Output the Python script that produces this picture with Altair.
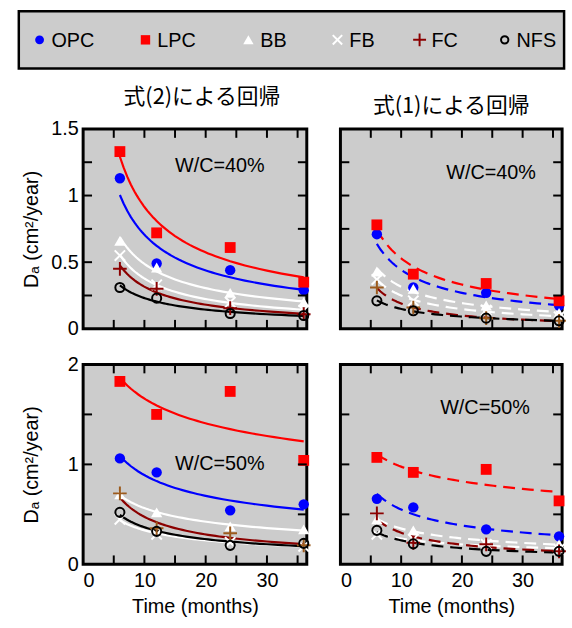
import altair as alt
import pandas as pd

TIME = [6, 12, 24, 36]
SERIES = ["OPC", "LPC", "BB", "FB", "FC", "NFS"]

# 式(2)による回帰, W/C=40%
EQ2_WC40 = {
    "OPC": [1.13, 0.49, 0.44, 0.29],
    "LPC": [1.33, 0.72, 0.61, 0.35],
    "BB": [0.66, 0.46, 0.27, 0.20],
    "FB": [0.55, 0.33, 0.20, 0.14],
    "FC": [0.45, 0.30, 0.155, 0.11],
    "NFS": [0.31, 0.23, 0.115, 0.10],
}
# 式(1)による回帰, W/C=40%
EQ1_WC40 = {
    "OPC": [0.71, 0.31, 0.27, 0.175],
    "LPC": [0.78, 0.41, 0.34, 0.21],
    "BB": [0.43, 0.30, 0.175, 0.12],
    "FB": [0.37, 0.21, 0.14, 0.09],
    "FC": [0.31, 0.16, 0.08, 0.06],
    "NFS": [0.21, 0.135, 0.08, 0.06],
}
# 式(2)による回帰, W/C=50%
EQ2_WC50 = {
    "OPC": [1.06, 0.92, 0.54, 0.60],
    "LPC": [1.83, 1.50, 1.73, 1.04],
    "BB": [0.70, 0.52, 0.38, 0.35],
    "FB": [0.45, 0.30, 0.22, 0.18],
    "FC": [0.71, 0.36, 0.31, 0.19],
    "NFS": [0.52, 0.33, 0.19, 0.21],
}
# 式(1)による回帰, W/C=50%
EQ1_WC50 = {
    "OPC": [0.655, 0.57, 0.35, 0.28],
    "LPC": [1.07, 0.92, 0.95, 0.635],
    "BB": [0.45, 0.34, 0.23, 0.20],
    "FB": [0.30, 0.25, 0.20, 0.15],
    "FC": [0.51, 0.215, 0.20, 0.13],
    "NFS": [0.34, 0.205, 0.13, 0.13],
}

X_LABELS = [0, 10, 20, 30]
X_MINOR = [5, 10, 15, 20, 25, 30, 35]
Y40_LABELS = [0, 0.5, 1, 1.5]
Y40_MINOR = [0.25, 0.5, 0.75, 1.0, 1.25]
Y50_LABELS = [0, 1, 2]
Y50_MINOR = [0.5, 1.0, 1.5]

BLUE, RED, WHITE, BLACK = "#0000ff", "#ff0000", "#ffffff", "#000000"
DARKRED, BROWN, MUTED = "#8b0000", "#9c5a1c", "#8a5a5a"
GRAY = "#cccccc"
FONT = "Liberation Sans"
CJK = "Noto Sans CJK JP"
FS = 20

X_PATH = "M-1,-1L1,1M-1,1L1,-1"
PLUS_PATH = "M-1,0L1,0M0,-1L0,1"

PANEL_VIEW = alt.ViewBackground(fill=GRAY, stroke="black", strokeWidth=3)


def marker_style(series, fc_color):
    return {
        "OPC": dict(shape="circle", filled=True, color=BLUE, size=110, opacity=1),
        "LPC": dict(shape="square", filled=True, color=RED, size=120, opacity=1),
        "BB": dict(shape="triangle-up", filled=True, color=WHITE, size=130, opacity=1),
        "FB": dict(shape=X_PATH, filled=False, color=WHITE, size=110, strokeWidth=2, opacity=1),
        "FC": dict(shape=PLUS_PATH, filled=False, color=fc_color, size=190, strokeWidth=2, opacity=1),
        "NFS": dict(shape="circle", filled=False, color=BLACK, size=85, strokeWidth=2, opacity=1),
    }[series]


def make_panel(vals, ymax, ylabels, yminor, dashed, fc_mark, fc_line, wc, wc_x, wc_y,
               left, bottom, title=None, title_dx=0):
    rows = [{"series": s, "t": t, "D": d} for s in SERIES for t, d in zip(TIME, vals[s])]
    df = pd.DataFrame(rows)
    W = 226 if left else 224
    H = 202
    xs = alt.Scale(domain=[0, 36.5], nice=False, zero=False)
    ys = alt.Scale(domain=[0, ymax], nice=False, zero=False)
    if bottom:
        x_axis = alt.Axis(values=X_LABELS, ticks=False, domain=False, grid=False, format="d",
                          labelFont=FONT, labelFontSize=FS, labelColor="black", labelPadding=6,
                          title="Time (months)", titleFont=FONT, titleFontSize=FS,
                          titleFontWeight="normal", titleColor="black", titlePadding=7)
    else:
        x_axis = None
    if left:
        y_axis = alt.Axis(values=ylabels, ticks=False, domain=False, grid=False, format="~g",
                          labelFont=FONT, labelFontSize=FS, labelColor="black", labelPadding=5,
                          title="Dₐ (cm²/year)", titleFont=FONT, titleFontSize=FS,
                          titleFontWeight="normal", titleColor="black",
                          titleX=-52, titleY=H / 2, titleAngle=-90, titleAlign="center",
                          titleBaseline="middle")
    else:
        y_axis = None

    X = alt.X("t:Q", scale=xs, axis=x_axis)
    Y = alt.Y("D:Q", scale=ys, axis=y_axis)

    line_range = [BLUE, RED, WHITE, WHITE, fc_line, BLACK]
    line_kw = dict(strokeWidth=2.2, clip=True)
    if dashed:
        line_kw["strokeDash"] = [12, 7]
    lines = (
        alt.Chart(df)
        .transform_regression("t", "D", method="pow", groupby=["series"], extent=[6, 36])
        .mark_line(**line_kw)
        .encode(
            x=X, y=Y,
            color=alt.Color("series:N", scale=alt.Scale(domain=SERIES, range=line_range), legend=None),
        )
    )

    layers = [lines]
    for s in SERIES:
        st = marker_style(s, fc_mark)
        layers.append(
            alt.Chart(df)
            .transform_filter(alt.datum.series == s)
            .mark_point(**st)
            .encode(x=X, y=Y)
        )

    xt = pd.DataFrame({"v": X_MINOR})
    yt = pd.DataFrame({"v": yminor})
    TL = 9
    tick_kw = dict(color="black", strokeWidth=2)
    XV = alt.X("v:Q", scale=xs, axis=x_axis)
    YV = alt.Y("v:Q", scale=ys, axis=y_axis)
    layers += [
        alt.Chart(xt).mark_rule(**tick_kw).encode(x=XV, y=alt.value(H), y2=alt.value(H - TL)),
        alt.Chart(xt).mark_rule(**tick_kw).encode(x=XV, y=alt.value(0), y2=alt.value(TL)),
        alt.Chart(yt).mark_rule(**tick_kw).encode(y=YV, x=alt.value(0), x2=alt.value(TL)),
        alt.Chart(yt).mark_rule(**tick_kw).encode(y=YV, x=alt.value(W - TL), x2=alt.value(W)),
    ]

    ann = pd.DataFrame({"label": [wc], "t": [wc_x], "D": [wc_y]})
    layers.append(
        alt.Chart(ann).mark_text(font=FONT, fontSize=FS, color="black", align="center",
                                 baseline="middle")
        .encode(x=X, y=Y, text="label:N")
    )

    props = dict(width=W, height=H, view=PANEL_VIEW)
    if title:
        props["title"] = alt.TitleParams(title, font=CJK, fontSize=22, fontWeight="normal",
                                         color="black", anchor="middle", frame="group",
                                         offset=10, dx=title_dx)
    return alt.layer(*layers).properties(**props)


tl = make_panel(EQ2_WC40, 1.5, Y40_LABELS, Y40_MINOR, False, DARKRED, DARKRED,
                "W/C=40%", 22.3, 1.22, True, False, "式(2)による回帰", 7)
tr = make_panel(EQ1_WC40, 1.5, Y40_LABELS, Y40_MINOR, True, BROWN, MUTED,
                "W/C=40%", 24.8, 1.165, False, False, "式(1)による回帰", 0)
bl = make_panel(EQ2_WC50, 2.0, Y50_LABELS, Y50_MINOR, False, BROWN, DARKRED,
                "W/C=50%", 22.3, 1.0, True, True)
br = make_panel(EQ1_WC50, 2.0, Y50_LABELS, Y50_MINOR, True, DARKRED, DARKRED,
                "W/C=50%", 23.8, 1.56, False, True)

# legend box: its frame reaches left past the view origin, by the width of the y-axis column
LEG_W, LEG_H = 551, 58
LEG_SHIFT = 65
LEG_SYM_X = [21, 128, 232, 322, 405, 491]
leg_layers = [
    alt.Chart(pd.DataFrame({"series": ["box"]}))
    .mark_rect(fill=GRAY, stroke="black", strokeWidth=2.5)
    .encode(x=alt.value(-LEG_SHIFT), x2=alt.value(LEG_W - LEG_SHIFT),
            y=alt.value(0), y2=alt.value(LEG_H))
]
for s, px in zip(SERIES, LEG_SYM_X):
    st = dict(marker_style(s, DARKRED))
    st["size"] = {"OPC": 80, "LPC": 90, "BB": 110, "FB": 90, "FC": 170, "NFS": 55}[s]
    one = pd.DataFrame({"series": [s]})
    leg_layers.append(
        alt.Chart(one).mark_point(**st).encode(x=alt.value(px - LEG_SHIFT), y=alt.value(LEG_H / 2))
    )
    leg_layers.append(
        alt.Chart(one).mark_text(font=FONT, fontSize=FS, color="black", align="left",
                                 baseline="middle")
        .encode(x=alt.value(px + 12 - LEG_SHIFT), y=alt.value(LEG_H / 2 + 1), text="series:N")
    )
legend = alt.layer(*leg_layers).properties(
    width=LEG_W - LEG_SHIFT, height=LEG_H,
    view=alt.ViewBackground(fill=None, stroke=None),
)

grid = alt.concat(
    tl, tr, bl, br, columns=2, bounds="flush",
    spacing=alt.RowColnumber(row=36, column=34),
)

chart = (
    alt.vconcat(legend, grid, spacing=61, bounds="flush")
    .properties(padding={"left": 17, "top": 6, "right": 0, "bottom": 0}, background="white")
)

chart.save("out.html", embed_options={"renderer": "svg", "actions": False})
